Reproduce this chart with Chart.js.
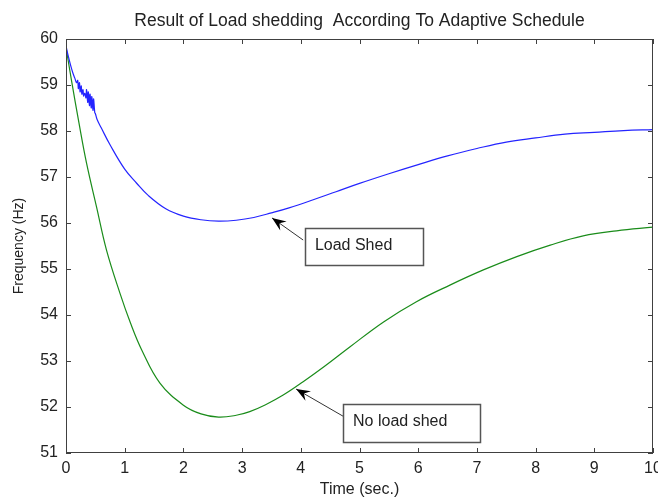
<!DOCTYPE html>
<html>
<head>
<meta charset="utf-8">
<script src="https://cdn.jsdelivr.net/npm/chart.js@4.4.0/dist/chart.umd.min.js"></script>
<style>
  body { margin: 0; background: #fff; overflow: hidden; }
</style>
</head>
<body>
<canvas id="freqChart" width="658" height="499"></canvas>
<script>
// Load shed case (blue)
const blueTime = [0, 0.04, 0.08, 0.12, 0.15, 0.18, 0.2, 0.21, 0.23, 0.24, 0.26, 0.27, 0.29, 0.3,
  0.32, 0.34, 0.35, 0.37, 0.38, 0.4, 0.41, 0.43, 0.44, 0.46, 0.47, 0.49, 0.5, 0.53, 0.6, 0.75,
  1.0, 1.2, 1.4, 1.7, 2.0, 2.3, 2.6, 2.9, 3.2, 3.5, 3.8, 4.2, 4.6, 5.0, 5.5, 6.0, 6.5, 7.0,
  7.5, 8.0, 8.5, 9.0, 9.5, 10];
const blueFreq = [59.85, 59.62, 59.42, 59.25, 59.15, 59.05, 59.1, 58.92, 59.05, 58.85, 58.98, 58.8, 58.9, 58.76,
  58.82, 58.72, 58.9, 58.62, 58.85, 58.55, 58.8, 58.5, 58.75, 58.45, 58.7, 58.4, 58.38, 58.25, 58.07, 57.70,
  57.17, 56.87, 56.60, 56.31, 56.15, 56.07, 56.04, 56.06, 56.12, 56.22, 56.33, 56.50, 56.68, 56.86, 57.07, 57.27, 57.46, 57.62,
  57.76, 57.85, 57.93, 57.97, 58.01, 58.03];

// No load shed case (green)
const greenTime = [0, 0.1, 0.22, 0.35, 0.52, 0.69, 0.92, 1.1, 1.29, 1.6, 2.0, 2.3, 2.6, 2.9, 3.13,
  3.4, 3.7, 4.04, 4.4, 4.84, 5.41, 5.97, 6.54, 7.11, 7.68, 8.25, 8.81, 9.38, 10];
const greenFreq = [59.82, 59.05, 58.18, 57.3, 56.35, 55.41, 54.47, 53.82, 53.24, 52.52, 52.04, 51.85, 51.78, 51.82, 51.9,
  52.05, 52.26, 52.55, 52.88, 53.31, 53.85, 54.29, 54.65, 54.98, 55.27, 55.52, 55.72, 55.83, 55.91];

const xTicks = [0, 1, 2, 3, 4, 5, 6, 7, 8, 9, 10];
const yTicks = [51, 52, 53, 54, 55, 56, 57, 58, 59, 60];

const chartTitle = 'Result of Load shedding  According To Adaptive Schedule';

// text boxes with arrows, placed in data units
const notes = [
  { text: 'Load Shed', box: [4.07, 55.89, 6.08, 55.09], tail: [4.04, 55.63], tip: [3.51, 56.11] },
  { text: 'No load shed', box: [4.72, 52.07, 7.05, 51.24], tail: [4.72, 51.80], tip: [3.92, 52.39] }
];

const FONT = '"Liberation Sans", Arial, Helvetica, sans-serif';
Chart.defaults.font.family = FONT;
Chart.defaults.color = '#222';

const toPoints = (xs, ys) => xs.map((x, i) => ({ x: x, y: ys[i] }));

// MATLAB style box with inward ticks, title over the axes, plus the annotations
const matlabFrame = {
  id: 'matlabFrame',
  afterDraw(chart) {
    const { ctx, chartArea: a, scales: { x, y } } = chart;
    ctx.save();
    ctx.strokeStyle = '#404040';
    ctx.lineWidth = 1;
    ctx.strokeRect(a.left + 0.5, a.top + 0.5, a.right - a.left - 1, a.bottom - a.top - 1);
    ctx.beginPath();
    xTicks.forEach(v => {
      const px = Math.round(x.getPixelForValue(v)) + 0.5;
      ctx.moveTo(px, a.bottom); ctx.lineTo(px, a.bottom - 5);
      ctx.moveTo(px, a.top); ctx.lineTo(px, a.top + 5);
    });
    yTicks.forEach(v => {
      const py = Math.round(y.getPixelForValue(v)) + 0.5;
      ctx.moveTo(a.left, py); ctx.lineTo(a.left + 5, py);
      ctx.moveTo(a.right, py); ctx.lineTo(a.right - 5, py);
    });
    ctx.stroke();

    // title centred on the axes, like MATLAB
    ctx.fillStyle = '#222';
    ctx.font = '17.5px ' + FONT;
    ctx.textAlign = 'center';
    ctx.textBaseline = 'middle';
    ctx.fillText(chartTitle, (a.left + a.right) / 2, a.top - 18);

    notes.forEach(n => {
      const x0 = x.getPixelForValue(n.box[0]), y0 = y.getPixelForValue(n.box[1]);
      const x1 = x.getPixelForValue(n.box[2]), y1 = y.getPixelForValue(n.box[3]);
      const tx = x.getPixelForValue(n.tail[0]), ty = y.getPixelForValue(n.tail[1]);
      const hx = x.getPixelForValue(n.tip[0]), hy = y.getPixelForValue(n.tip[1]);

      // arrow shaft
      ctx.strokeStyle = '#333';
      ctx.lineWidth = 1;
      ctx.beginPath();
      ctx.moveTo(tx, ty);
      ctx.lineTo(hx, hy);
      ctx.stroke();
      // arrow head
      const ang = Math.atan2(hy - ty, hx - tx);
      ctx.fillStyle = '#000';
      ctx.beginPath();
      ctx.moveTo(hx, hy);
      ctx.lineTo(hx - 14 * Math.cos(ang) + 5.5 * Math.sin(ang), hy - 14 * Math.sin(ang) - 5.5 * Math.cos(ang));
      ctx.lineTo(hx - 9 * Math.cos(ang), hy - 9 * Math.sin(ang));
      ctx.lineTo(hx - 14 * Math.cos(ang) - 5.5 * Math.sin(ang), hy - 14 * Math.sin(ang) + 5.5 * Math.cos(ang));
      ctx.closePath();
      ctx.fill();

      // box
      ctx.fillStyle = '#fff';
      ctx.fillRect(x0, y0, x1 - x0, y1 - y0);
      ctx.strokeStyle = '#555';
      ctx.lineWidth = 1.5;
      ctx.strokeRect(Math.round(x0) + 0.5, Math.round(y0) + 0.5, Math.round(x1 - x0), Math.round(y1 - y0));
      ctx.fillStyle = '#222';
      ctx.font = '16px ' + FONT;
      ctx.textAlign = 'left';
      ctx.textBaseline = 'middle';
      ctx.fillText(n.text, x0 + 10, (y0 + y1) / 2 - 1);
    });
    ctx.restore();
  }
};

new Chart(document.getElementById('freqChart'), {
  type: 'line',
  data: {
    datasets: [
      { label: 'Load Shed', data: toPoints(blueTime, blueFreq), borderColor: '#2424ff', borderWidth: 1.2,
        pointRadius: 0, tension: 0.4, fill: false },
      { label: 'No load shed', data: toPoints(greenTime, greenFreq), borderColor: '#1a8c1a', borderWidth: 1.2,
        pointRadius: 0, tension: 0.4, fill: false }
    ]
  },
  options: {
    responsive: false,
    animation: false,
    devicePixelRatio: 1,
    layout: { padding: { left: 0, right: 5, top: 39, bottom: 0 } },
    plugins: {
      legend: { display: false },
      tooltip: { enabled: false },
      title: { display: false }
    },
    scales: {
      x: {
        type: 'linear', min: 0, max: 10,
        ticks: { stepSize: 1, padding: 6, font: { size: 16 }, color: '#222' },
        grid: { display: false, drawTicks: false },
        border: { display: false },
        title: { display: true, text: 'Time (sec.)', font: { size: 16 }, color: '#222', padding: { top: 0, bottom: 0 } },
        afterFit(s) { s.height = 46; s.paddingRight = 0; }
      },
      y: {
        min: 51, max: 60,
        ticks: { stepSize: 1, padding: 8, font: { size: 16 }, color: '#222' },
        grid: { display: false, drawTicks: false },
        border: { display: false },
        title: { display: true, text: 'Frequency (Hz)', font: { size: 14 }, color: '#222', padding: { top: 11, bottom: 0 } },
        afterFit(s) { s.width = 66; }
      }
    }
  },
  plugins: [matlabFrame]
});
</script>
</body>
</html>
